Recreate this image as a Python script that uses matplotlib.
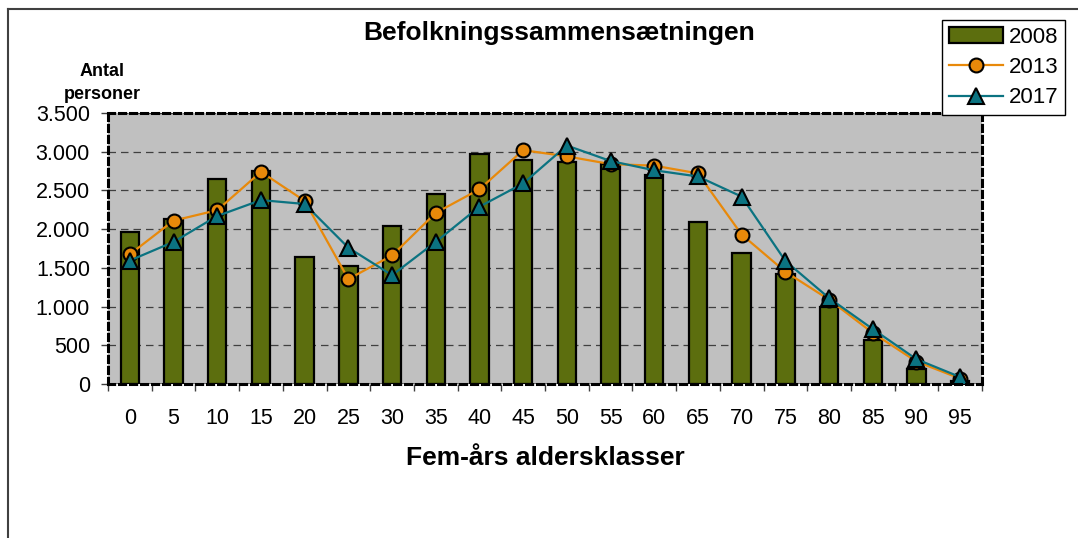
import matplotlib
matplotlib.use("Agg")
import matplotlib.pyplot as plt
from matplotlib.ticker import FuncFormatter, FixedLocator
from matplotlib.lines import Line2D
import numpy as np

plt.rcParams['font.family'] = ['Liberation Sans', 'DejaVu Sans']

ages = ['0', '5', '10', '15', '20', '25', '30', '35', '40', '45',
        '50', '55', '60', '65', '70', '75', '80', '85', '90', '95']
pop_2008 = [1960, 2130, 2650, 2750, 1640, 1530, 2040, 2460, 2970, 2890,
            2870, 2835, 2700, 2090, 1690, 1420, 1000, 570, 200, 40]
pop_2013 = [1675, 2110, 2245, 2740, 2365, 1355, 1660, 2210, 2515, 3020,
            2940, 2840, 2820, 2720, 1930, 1450, 1090, 660, 290, 70]
pop_2017 = [1595, 1835, 2170, 2375, 2325, 1760, 1405, 1835, 2290, 2590,
            3080, 2880, 2760, 2680, 2420, 1590, 1110, 710, 320, 90]

olive = '#5C6E0E'
orange = '#E8890A'
teal = '#0B7381'

fig = plt.figure(figsize=(10.78, 5.38), dpi=100)
ax = fig.add_axes([108/1078, 1-384/538, (982-108)/1078, (384-113)/538])
ax.set_facecolor('#C0C0C0')

x = np.arange(len(ages))
b08 = ax.bar(x, pop_2008, width=0.42, color=olive, edgecolor='black', linewidth=1.6,
             label='2008', zorder=3)
l13, = ax.plot(x, pop_2013, color=orange, linewidth=1.6, marker='o', markersize=10,
               markerfacecolor=orange, markeredgecolor='black', markeredgewidth=1.5,
               label='2013', zorder=4)
l17, = ax.plot(x, pop_2017, color=teal, linewidth=1.6, marker='^', markersize=11,
               markerfacecolor=teal, markeredgecolor='black', markeredgewidth=1.5,
               label='2017', zorder=5)

ax.set_xlim(-0.5, len(ages) - 0.5)
ax.set_ylim(0, 3500)
ax.set_yticks(np.arange(0, 3501, 500))
ax.yaxis.set_major_formatter(FuncFormatter(lambda v, p: f"{int(v):,}".replace(',', '.')))
ax.set_xticks(x)
ax.set_xticklabels(ages)
ax.xaxis.set_minor_locator(FixedLocator(np.arange(-0.5, len(ages), 1)))
ax.tick_params(axis='x', which='major', length=0, pad=17, labelsize=15.5)
ax.tick_params(axis='x', which='minor', length=5, width=1, color='#404040', direction='out')
ax.tick_params(axis='y', length=5, width=1, color='#404040', pad=8, labelsize=15.5)

ax.yaxis.grid(True, color='#404040', linestyle=(0, (6, 4)), linewidth=0.9, zorder=1)
ax.set_axisbelow(True)
ax.axhline(0, color='#606060', linewidth=1.2, zorder=2)

for s in ax.spines.values():
    s.set_linestyle((0, (2, 1.6)))
    s.set_linewidth(2.2)
    s.set_color('black')
    s.set_zorder(6)

fig.text(0.519, 1-33/538, 'Befolkningssammensætningen', ha='center', va='center',
         fontsize=19, fontweight='bold')
fig.text(102/1078, 1-83/538, 'Antal\npersoner', ha='center', va='center',
         fontsize=13, fontweight='bold', linespacing=1.45)
fig.text(545/1078, 1-458/538, 'Fem-års aldersklasser', ha='center', va='center',
         fontsize=19, fontweight='bold')

# chart area frame (only top and left visible)
fig.add_artist(Line2D([8/1078, 8/1078], [0, 1-9/538], transform=fig.transFigure,
                      color='#404040', linewidth=1.5))
fig.add_artist(Line2D([8/1078, 1], [1-9/538, 1-9/538], transform=fig.transFigure,
                      color='#404040', linewidth=1.5))

leg = fig.legend([b08, l13, l17], ['2008', '2013', '2017'],
                 loc='upper left', bbox_to_anchor=(942/1078, 1-20/538),
                 fontsize=16, frameon=True, fancybox=False, framealpha=1,
                 edgecolor='black', handlelength=2.45, labelspacing=0.42,
                 borderpad=0.3, handletextpad=0.25, borderaxespad=0)
leg.get_frame().set_linewidth(1.0)

fig.savefig('out.png', dpi=100)
